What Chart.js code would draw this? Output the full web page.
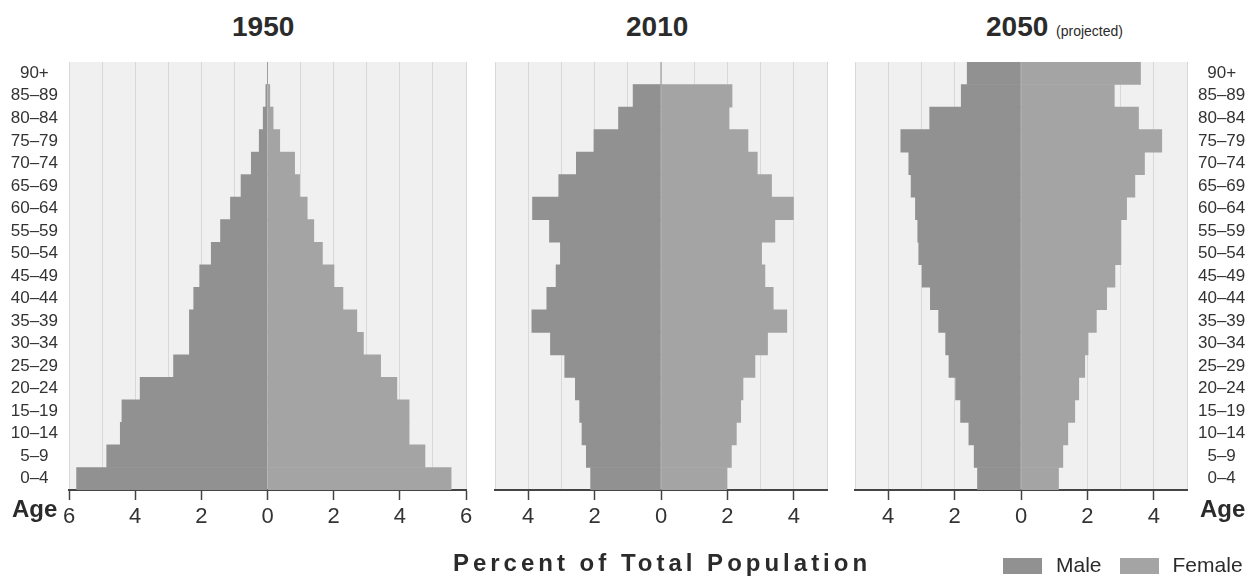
<!DOCTYPE html>
<html>
<head>
<meta charset="utf-8">
<script src="https://cdn.jsdelivr.net/npm/chart.js@4"></script>
<style>
  body { margin: 0; background: #fff; width: 1256px; height: 579px; position: relative; overflow: hidden;
         font-family: "Liberation Sans", Arial, sans-serif; color: #2b2b2b; }
  canvas { position: absolute; top: 50px; }
  .title { position: absolute; top: 10px; line-height: 34px; font-size: 28px; font-weight: bold; }
  .title small { font-size: 14px; font-weight: normal; }
  .age { position: absolute; top: 496px; font-size: 24px; font-weight: bold; line-height: 26px; }
  .xtitle { position: absolute; top: 550px; left: 0; width: 1324px; text-align: center;
            font-size: 24px; font-weight: bold; letter-spacing: 4px; line-height: 26px; }
  .legend { position: absolute; top: 552px; left: 1003px; font-size: 21px; line-height: 26px; white-space: nowrap; }
  .legend i { display: inline-block; width: 39px; height: 16px; vertical-align: -2px; margin-right: 14px; }
</style>
</head>
<body>
<div class="title" style="left:232px">1950</div>
<div class="title" style="left:626px">2010</div>
<div class="title" style="left:986px">2050 <small>(projected)</small></div>

<canvas id="c1950" width="480" height="500" style="left:0"></canvas>
<canvas id="c2010" width="360" height="500" style="left:480px"></canvas>
<canvas id="c2050" width="416" height="500" style="left:840px"></canvas>

<div class="age" style="left:12px">Age</div>
<div class="age" style="left:1200px">Age</div>
<div class="xtitle">Percent of Total Population</div>
<div class="legend"><i style="background:#919191"></i>Male<i style="background:#a4a4a4;margin-left:18px"></i>Female</div>

<script>
// age groups, oldest at the top
const ages = ['90+', '85–89', '80–84', '75–79', '70–74', '65–69', '60–64', '55–59', '50–54', '45–49',
              '40–44', '35–39', '30–34', '25–29', '20–24', '15–19', '10–14', '5–9', '0–4'];

const male1950   = [0, 0.05, 0.13, 0.25, 0.49, 0.80, 1.12, 1.42, 1.70, 2.05, 2.23, 2.36, 2.36, 2.84, 3.85, 4.40, 4.45, 4.86, 5.77];
const female1950 = [0, 0.07, 0.17, 0.37, 0.82, 0.97, 1.20, 1.40, 1.66, 2.01, 2.28, 2.70, 2.90, 3.42, 3.91, 4.28, 4.28, 4.76, 5.55];

const male2010   = [0, 0.84, 1.28, 2.02, 2.55, 3.08, 3.87, 3.36, 3.03, 3.16, 3.44, 3.89, 3.33, 2.90, 2.58, 2.45, 2.38, 2.25, 2.12];
const female2010 = [0, 2.14, 2.05, 2.62, 2.90, 3.33, 3.99, 3.43, 3.03, 3.13, 3.38, 3.79, 3.21, 2.83, 2.47, 2.40, 2.27, 2.12, 1.98];

const male2050   = [1.62, 1.80, 2.75, 3.62, 3.38, 3.31, 3.18, 3.11, 3.08, 2.98, 2.73, 2.48, 2.27, 2.17, 1.97, 1.82, 1.57, 1.41, 1.31];
const female2050 = [3.60, 2.81, 3.54, 4.24, 3.72, 3.43, 3.18, 3.01, 3.01, 2.83, 2.58, 2.27, 2.02, 1.92, 1.74, 1.62, 1.41, 1.26, 1.13];

const MALE = '#919191';
const FEMALE = '#a4a4a4';
const FONT = '"Liberation Sans", Arial, sans-serif';

// light grey plot background
const plotBg = {
    id: 'plotBg',
    beforeDraw(chart) {
        const { ctx, chartArea: a } = chart;
        ctx.save();
        ctx.fillStyle = '#f0f0f0';
        ctx.fillRect(a.left, a.top, a.right - a.left, a.bottom - a.top);
        ctx.restore();
    },
};

function pyramid(id, male, female, span, ageAxis, padding) {
    const yAxis = {
        type: 'category',
        stacked: true,
        display: ageAxis !== null,
        position: ageAxis || 'left',
        grid: { display: false, drawTicks: false },
        border: { display: false },
        ticks: { autoSkip: false, crossAlign: 'center', padding: 11, color: '#333', font: { family: FONT, size: 17 } },
        afterFit: s => {
            s.width = ageAxis ? 69 : 0;
            s.paddingTop = 0;
            s.paddingBottom = 0;
        },
    };
    return new Chart(document.getElementById(id), {
        type: 'bar',
        data: {
            labels: ages,
            datasets: [
                { label: 'Male', data: male.map(v => -v), backgroundColor: MALE },
                { label: 'Female', data: female, backgroundColor: FEMALE },
            ],
        },
        plugins: [plotBg],
        options: {
            indexAxis: 'y',
            responsive: false,
            animation: false,
            layout: { padding },
            datasets: { bar: { barPercentage: 1, categoryPercentage: 1, borderWidth: 0 } },
            plugins: { legend: { display: false }, tooltip: { enabled: false } },
            scales: {
                x: {
                    type: 'linear',
                    stacked: true,
                    min: -span,
                    max: span,
                    grid: {
                        color: '#d8d8d8',
                        tickLength: 10,
                        tickWidth: 1.5,
                        tickColor: c => (c.tick && c.tick.value % 2 === 0 ? '#444' : 'rgba(0,0,0,0)'),
                    },
                    border: { color: '#444', width: 2 },
                    ticks: {
                        stepSize: 1,
                        autoSkip: false,
                        maxRotation: 0,
                        padding: 4,
                        color: '#333',
                        font: { family: FONT, size: 22 },
                        callback: v => (v % 2 === 0 ? String(Math.abs(v)) : ''),
                    },
                    afterFit: s => { s.height = 50; },
                },
                y: yAxis,
            },
        },
    });
}

pyramid('c1950', male1950, female1950, 6, 'left', { top: 12, right: 14, bottom: 10, left: 0 });
pyramid('c2010', male2010, female2010, 5, null, { top: 12, right: 13, bottom: 10, left: 15 });
pyramid('c2050', male2050, female2050, 5, 'right', { top: 12, right: 0, bottom: 10, left: 15 });
</script>
</body>
</html>
